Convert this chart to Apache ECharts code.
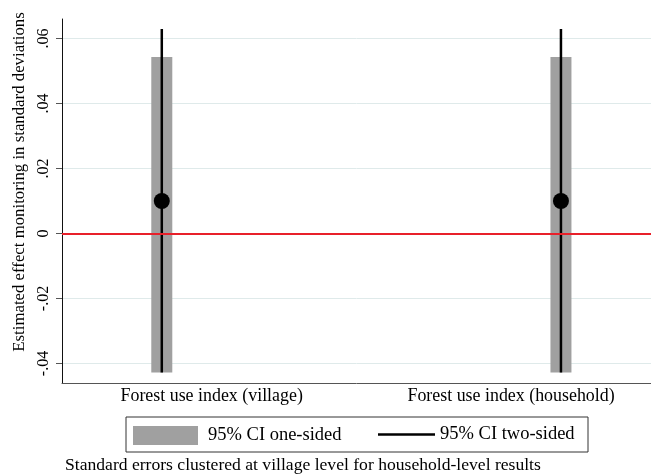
<!DOCTYPE html>
<html><head><meta charset="utf-8">
<script src="https://cdn.jsdelivr.net/npm/echarts@6/dist/echarts.min.js"></script>
<style>html,body{margin:0;padding:0;background:#fff}#c{width:651px;height:476px}</style>
</head><body><div id="c"></div>
<script>
const categories = ['Forest use index (village)', 'Forest use index (household)'];
const xPositions = [1, 2];
const estimates = [0.010, 0.010];
const oneSidedLow = [-0.0428, -0.0428];
const oneSidedHigh = [0.0543, 0.0543];
const twoSidedLow = [-0.0428, -0.0428];
const twoSidedHigh = [0.0629, 0.0629];
const yTickValues = [-0.04, -0.02, 0, 0.02, 0.04, 0.06];
const yTickLabels = ['-.04', '-.02', '0', '.02', '.04', '.06'];
const legendNames = ['95% CI one-sided', '95% CI two-sided'];
const yTitle = 'Estimated effect monitoring in standard deviations';
const footnote = 'Standard errors clustered at village level for household-level results';

const FONT = '"Liberation Serif", "DejaVu Serif", serif';
const labelAt = [xPositions[0] + 0.125, xPositions[1] - 0.125];
const XMIN = 0.75, XMAX = 2.2256;

const chart = echarts.init(document.getElementById('c'), null, {renderer: 'canvas'});
chart.setOption({
  animation: false,
  backgroundColor: '#fff',
  textStyle: {fontFamily: FONT},
  grid: {left: 62, right: 0, top: 19, bottom: 93, containLabel: false, outerBoundsMode: 'none'},
  title: {
    text: footnote, left: 65, top: 456, padding: 0,
    textStyle: {fontFamily: FONT, fontSize: 17.6, fontWeight: 'normal', color: '#000'}
  },
  legend: [
    {
      data: [{name: legendNames[0], icon: 'rect'}],
      left: 133, top: 426, padding: 0, itemWidth: 65, itemHeight: 19,
      selectedMode: false,
      textStyle: {fontFamily: FONT, fontSize: 18.5, color: '#000', padding: [3, 0, 0, 5]}
    },
    {
      data: [{name: legendNames[1], icon: 'rect'}],
      left: 378, top: 425, padding: 0, itemWidth: 57, itemHeight: 2.5,
      selectedMode: false,
      textStyle: {fontFamily: FONT, fontSize: 18.5, color: '#000', padding: [4, 0, 0, 0]}
    }
  ],
  graphic: [{
    type: 'rect', shape: {x: 126, y: 417, width: 462, height: 35},
    style: {fill: 'none', stroke: '#333', lineWidth: 1}, silent: true
  }],
  xAxis: [
    {
      type: 'value', min: XMIN, max: XMAX, position: 'bottom',
      axisLine: {show: true, onZero: false, lineStyle: {color: '#555', width: 1}},
      axisTick: {show: false}, axisLabel: {show: false}, splitLine: {show: false}
    },
    {
      type: 'value', min: XMIN, max: XMAX, position: 'bottom', gridIndex: 0,
      axisLine: {show: false, onZero: false}, axisTick: {show: false}, splitLine: {show: false},
      axisLabel: {
        show: true, customValues: labelAt, margin: 4,
        fontFamily: FONT, fontSize: 17.9, color: '#000',
        formatter: v => {
          const i = labelAt.findIndex(p => Math.abs(p - v) < 1e-6);
          return i >= 0 ? categories[i] : '';
        }
      }
    }
  ],
  yAxis: {
    type: 'value', min: -0.046, max: 0.066,
    name: yTitle, nameLocation: 'middle', nameGap: 31,
    nameTextStyle: {fontFamily: FONT, fontSize: 16.8, color: '#000', padding: [0, 0, 0, 38]},
    axisLine: {show: true, lineStyle: {color: '#111', width: 1}},
    axisTick: {show: true, length: 6, customValues: yTickValues, lineStyle: {color: '#555'}},
    axisLabel: {
      show: true, rotate: 90, margin: 10, customValues: yTickValues,
      fontFamily: FONT, fontSize: 16, color: '#000',
      formatter: v => {
        const i = yTickValues.findIndex(p => Math.abs(p - v) < 1e-9);
        return i >= 0 ? yTickLabels[i] : '';
      }
    },
    splitLine: {show: true, lineStyle: {color: '#dfeaea', width: 1}}
  },
  series: [
    {
      name: legendNames[0], type: 'custom', xAxisIndex: 0,
      itemStyle: {color: '#a0a0a0'},
      encode: {x: 0, y: [1, 2]},
      data: xPositions.map((x, i) => [x, oneSidedLow[i], oneSidedHigh[i]]),
      renderItem: (params, api) => {
        const x = api.value(0);
        const top = api.coord([x, api.value(2)]);
        const bot = api.coord([x, api.value(1)]);
        return {type: 'rect', shape: {x: top[0] - 10.5, y: top[1], width: 21, height: bot[1] - top[1]},
                style: {fill: '#a0a0a0'}};
      },
      z: 2
    },
    {
      name: legendNames[1], type: 'custom', xAxisIndex: 0,
      itemStyle: {color: '#000'},
      encode: {x: 0, y: [1, 2]},
      data: xPositions.map((x, i) => [x, twoSidedLow[i], twoSidedHigh[i]]),
      renderItem: (params, api) => {
        const x = api.value(0);
        const top = api.coord([x, api.value(2)]);
        const bot = api.coord([x, api.value(1)]);
        return {type: 'line', shape: {x1: top[0], y1: top[1], x2: bot[0], y2: bot[1]},
                style: {stroke: '#000', lineWidth: 2.5}};
      },
      z: 4
    },
    {
      name: 'estimate', type: 'scatter', xAxisIndex: 0,
      symbol: 'circle', symbolSize: 16,
      itemStyle: {color: '#000', opacity: 1},
      data: xPositions.map((x, i) => [x, estimates[i]]),
      markLine: {
        silent: true, symbol: 'none', label: {show: false},
        lineStyle: {color: '#e8202a', width: 1.8, type: 'solid'},
        data: [{yAxis: 0}]
      },
      z: 5
    }
  ]
});
</script></body></html>
